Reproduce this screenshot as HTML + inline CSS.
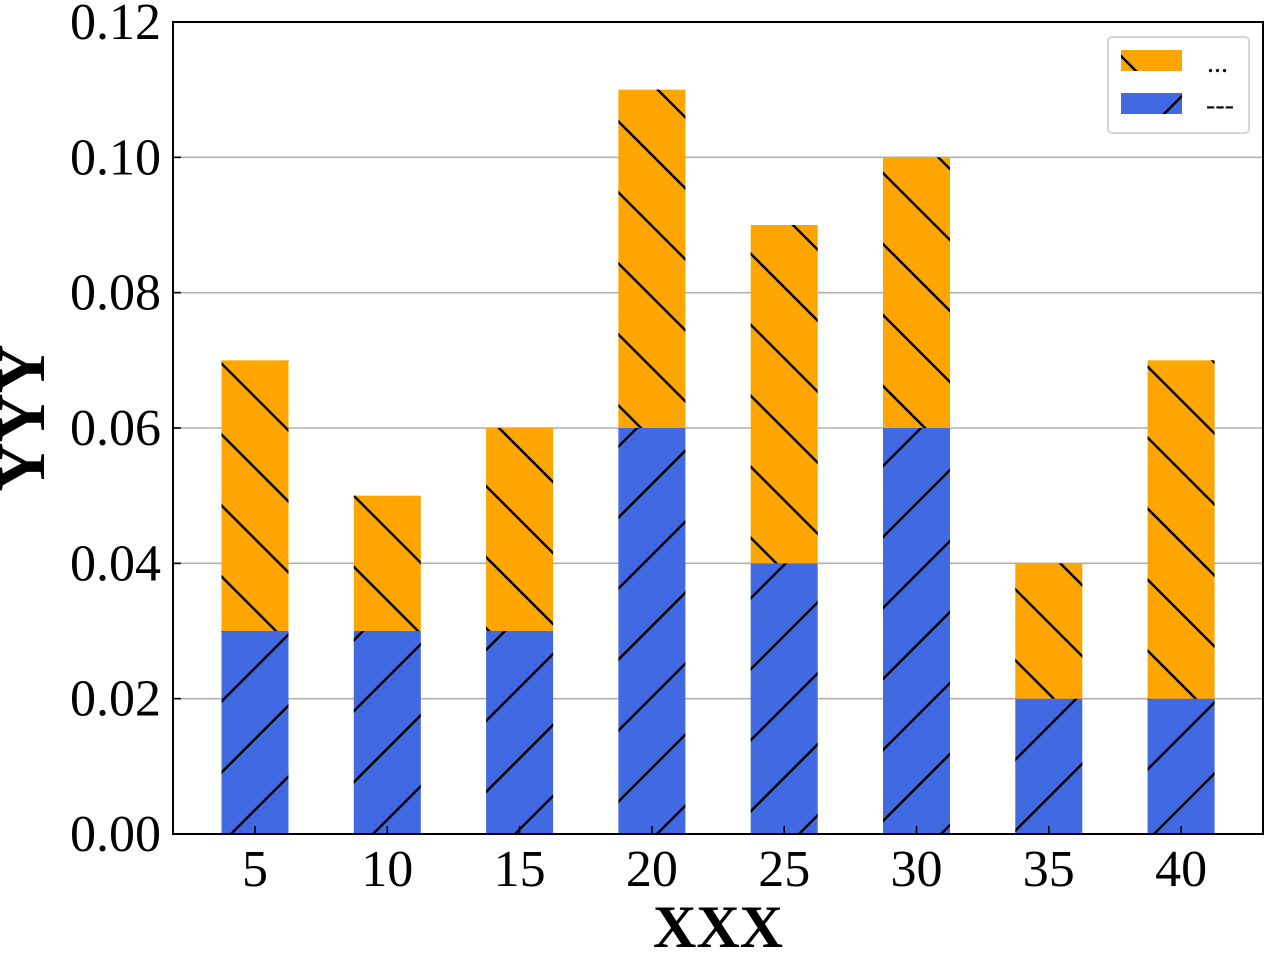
<!DOCTYPE html>
<html><head><meta charset="utf-8"><style>
body{margin:0;background:#fff}
svg text{font-family:"Liberation Serif",serif}
</style></head><body>
<svg id="c" width="1268" height="952">
<defs>
<pattern id="hb" patternUnits="userSpaceOnUse" width="71" height="71">
<path d="M-10,10 L10,-10 M0,71 L71,0 M61,81 L81,61" stroke="#000" stroke-width="2.5"/></pattern>
<pattern id="ho" patternUnits="userSpaceOnUse" width="71" height="71">
<path d="M-10,61 L10,81 M0,0 L71,71 M61,-10 L81,10" stroke="#000" stroke-width="2.5"/></pattern>
</defs>
<g id="grid"></g><g id="bars"></g><g id="axes"></g>
<g>
<rect x="1108" y="37" width="141" height="96" rx="4" fill="#fff" stroke="#d6d6d6" stroke-width="2"/>
<rect x="1121" y="50" width="61" height="21" fill="#ffa500"/>
<rect x="1121" y="50" width="61" height="21" fill="url(#ho)"/>
<text x="1207" y="72" font-size="28">...</text>
<rect x="1121" y="93" width="61" height="21" fill="#4169e1"/>
<rect x="1121" y="93" width="61" height="21" fill="url(#hb)"/>
<text x="1206" y="114" font-size="28">---</text>
</g>
<text x="718" y="947" font-size="60" font-weight="bold" text-anchor="middle">XXX</text>
<text transform="translate(44,418) rotate(-90)" font-size="68" font-weight="bold" text-anchor="middle">YYY</text>
</svg>
<script>
const categories=[5,10,15,20,25,30,35,40];
const bottomValues=[0.03,0.03,0.03,0.06,0.04,0.06,0.02,0.02];
const topValues=[0.04,0.02,0.03,0.05,0.05,0.04,0.02,0.05];
const yTicks=[0,0.02,0.04,0.06,0.08,0.10,0.12];
const yTickLabels=["0.00","0.02","0.04","0.06","0.08","0.10","0.12"];
const L=173,R=1263,T=22,B=834;
const y=v=>B-(v/0.12)*(B-T);
const x=i=>255+i*132.3;
const NS="http://www.w3.org/2000/svg";
function mk(tag,attrs,parent){const e=document.createElementNS(NS,tag);for(const k in attrs)e.setAttribute(k,attrs[k]);parent.appendChild(e);return e;}
const grid=document.getElementById('grid'),bars=document.getElementById('bars'),axes=document.getElementById('axes');
yTicks.forEach((t,i)=>{
 if(i>0&&i<yTicks.length-1){const g=mk('line',{x1:L,x2:R,y1:y(t),y2:y(t),stroke:'#b0b0b0','stroke-width':1.6},grid);
 
 }
 const tk=mk('line',{x1:L,x2:L+8,y1:y(t),y2:y(t),stroke:'#000','stroke-width':1.6},axes);
 
 
 const lb=mk('text',{x:L-12,y:y(t)+17,'font-size':52,'text-anchor':'end'},axes);
 lb.textContent=yTickLabels[i];
 
 
});
const w=67;
categories.forEach((c,i)=>{
 const cx=x(i),b=bottomValues[i],t=topValues[i];
 const r1=mk('rect',{x:cx-w/2,y:y(b),width:w,height:B-y(b),fill:'#4169e1'},bars);
 
 
 mk('rect',{x:cx-w/2,y:y(b),width:w,height:B-y(b),fill:'url(#hb)'},bars);
 const r2=mk('rect',{x:cx-w/2,y:y(b+t),width:w,height:y(b)-y(b+t),fill:'#ffa500'},bars);
 
 
 mk('rect',{x:cx-w/2,y:y(b+t),width:w,height:y(b)-y(b+t),fill:'url(#ho)'},bars);
 const tk=mk('line',{x1:cx,x2:cx,y1:B,y2:B-8,stroke:'#000','stroke-width':1.6},axes);
 
 
 const lb=mk('text',{x:cx,y:886,'font-size':52,'text-anchor':'middle'},axes);
 lb.textContent=c;
 
 
});
const fr=mk('rect',{x:L,y:T,width:R-L,height:B-T,fill:'none',stroke:'#000','stroke-width':2},axes);


</script>
</body></html>
